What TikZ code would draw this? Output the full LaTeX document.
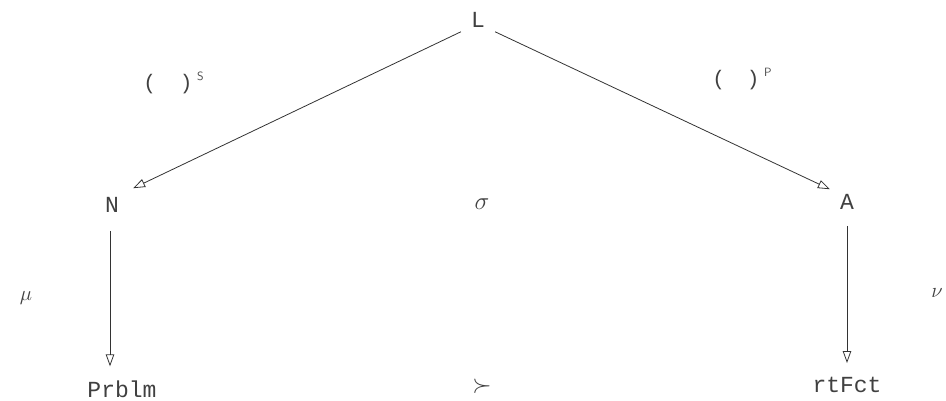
\documentclass[tikz,border=0pt]{standalone}
\usepackage{fontspec}
\setmainfont{Liberation Mono}
\usetikzlibrary{arrows.meta,positioning}

\begin{document}
\begin{tikzpicture}[
  x=1pt, y=-1pt,
  obj/.style={font=\fontsize{23}{25}\selectfont, inner sep=4pt, text=black!75},
  tag/.style={font=\fontsize{21}{23}\selectfont, inner sep=2pt, text=black!75},
  supmark/.style={font=\fontsize{12}{13}\selectfont\sffamily, inner sep=0pt, text=black!70},
  arrow/.style={-{Triangle[open, length=12pt, width=8.5pt]}, line width=0.8pt, black!80}
]
\useasboundingbox (0,0) rectangle (946,400);

\node[obj] (lang) at (478,20) {L};
\node[obj] (nat) at (112,205) {N};
\node[obj] (alg) at (847,202) {A};
\node[obj] (prob) at (122,389) {Prblm};
\node[obj] (fact) at (847,385) {rtFct};
\node[obj] (sigma) at (482,204) {$\sigma$};
\node[obj] (succ) at (482,386) {$\succ$};

% labels of the arrows
\node[tag] (slab) at (168,84) {(\hspace{24pt})};
\node[supmark, right=2pt of slab.north east, anchor=north west] (ssup) {S};
\node[tag] (plab) at (736,80) {(\hspace{22pt})};
\node[supmark, right=2pt of plab.north east, anchor=north west] (psup) {P};
\node[tag] (mu) at (26,298) {$\mu$};
\node[tag] (nu) at (937,293) {$\nu$};

\draw[arrow] ([xshift=-6pt]lang.south west) -- ([xshift=10pt,yshift=5pt]nat.north east);
\draw[arrow] ([xshift=6pt]lang.south east) -- ([xshift=-6pt,yshift=1pt]alg.north west);
\draw[arrow, shorten <=14pt, shorten >=10pt] ([xshift=-2pt]nat.south) -- ([xshift=-2pt]nat.south |- prob.north);
\draw[arrow, shorten <=12pt, shorten >=10pt] (alg.south) -- (alg.south |- fact.north);
\end{tikzpicture}
\end{document}
